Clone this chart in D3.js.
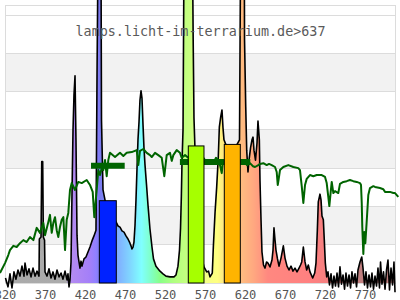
<!DOCTYPE html>
<html><head><meta charset="utf-8">
<script src="https://cdn.jsdelivr.net/npm/d3@7/dist/d3.min.js"></script>
<style>html,body{margin:0;padding:0;background:#fff;} svg{display:block;}</style>
</head><body>
<svg id="chart" width="400" height="300"></svg>
<script>
const titleText = "lamps.licht-im-terrarium.de>637";
const tickLabels = [320, 370, 420, 470, 520, 570, 620, 670, 720, 770];
const gridValues = [0, 10, 20, 30, 40, 50, 60, 70];
const bandValues = [10, 30, 50];

// lamp spectrum: [wavelength nm, relative intensity]
const spectrum = [[320,1.3],[323.1,-1.0],[325.6,2.4],[328.1,-1.3],[330.6,2.9],[333.1,1.0],[335.6,3.4],[338.1,1.8],[340.6,4.4],[343.1,1.8],[344.4,5.2],[346.9,2.1],[349.4,3.7],[351.9,1.6],[354.4,3.9],[356.9,1.8],[359.4,3.1],[361.9,1.8],[362.3,11.5],[364.4,12.0],[365.3,31.7],[366.5,31.7],[367.3,12.0],[368.8,11.2],[369.4,2.9],[371.9,1.8],[374.4,3.7],[376.9,1.3],[379.4,2.9],[381.9,1.0],[384.4,3.4],[386.9,1.6],[389.4,2.6],[391.9,1.0],[394.4,3.1],[396.9,0.8],[398.1,2.4],[399.4,-1.0],[400.6,0.8],[401.9,5.5],[403.1,23.0],[404.4,40.0],[405.6,49.1],[406.9,54.1],[408.1,37.4],[409.4,12.5],[410.6,7.3],[411.9,5.5],[413.1,3.9],[414.4,5.7],[415.6,4.4],[418.1,6.3],[420.6,6.8],[423.1,8.1],[425.6,9.4],[428.1,11.0],[430.6,12.3],[433.1,13.8],[434.4,54.3],[435.6,84.4],[439.4,84.4],[440,42.6],[441.9,24.3],[445.6,20.4],[450.6,18.5],[455.6,17.0],[458.8,15.7],[460.6,14.9],[463.1,14.6],[465.6,13.6],[468.1,13.3],[470.6,12.3],[473.1,11.5],[475.6,10.4],[476.9,9.7],[478.1,8.9],[479.4,9.4],[480.6,10.7],[481.9,15.1],[483.1,21.7],[484.4,30.0],[485.6,37.4],[486.9,42.1],[488.1,47.8],[489.4,50.2],[490.6,48.3],[491.9,41.3],[493.1,35.3],[494.4,30.8],[496.3,25.6],[498.1,20.4],[500.6,14.1],[503.1,9.4],[505,6.3],[508.1,4.4],[513.1,3.1],[516.9,2.4],[520.6,1.8],[525.6,1.6],[530.6,1.6],[533.1,2.1],[535.6,4.4],[537.5,8.6],[538.8,14.4],[539.8,22.5],[540.6,31.3],[541.9,40.0],[543.1,84.4],[553.8,84.4],[554.6,63.5],[555.6,43.1],[558.1,26.9],[561.9,13.8],[565.6,6.5],[568.1,4.2],[571.5,2.9],[573.8,3.1],[575.6,1.6],[578.5,2.6],[579.8,9.4],[581.9,18.3],[584,25.1],[586,32.9],[587.3,40.7],[589,43.4],[590.6,45.2],[591.9,40.5],[593.1,37.4],[598.1,34.7],[605.6,34.7],[612.5,37.4],[613.8,84.4],[618.5,84.4],[618.8,63.5],[620.3,46.0],[621.5,34.7],[623.1,29.0],[624.4,32.1],[626.3,35.3],[628.1,37.4],[629.4,38.1],[630.6,34.7],[632.5,32.1],[634.4,36.6],[635.6,42.3],[637.3,37.4],[638.1,26.9],[639.4,16.5],[640.6,8.1],[642.5,4.7],[644.4,3.9],[646.3,5.5],[648.1,5.2],[650.6,4.2],[653.1,6.0],[654.4,8.6],[655.6,14.4],[656.9,11.2],[658.1,8.6],[660,6.3],[661.9,4.4],[664.4,6.5],[667.3,9.7],[669.4,6.5],[671.9,4.4],[674.4,3.4],[676.9,4.4],[679.4,3.1],[681.9,3.9],[684.4,2.9],[686.9,3.9],[688.8,4.7],[690.3,5.5],[692.3,9.4],[694.4,5.5],[696.5,3.4],[698.5,4.7],[700.6,2.9],[704,1.3],[706.5,2.6],[708.1,5.2],[709.8,13.8],[711,21.2],[713.1,23.2],[714.4,21.7],[715.6,17.5],[717.3,16.5],[718.5,11.2],[719.8,5.2],[721.5,1.6],[723.1,2.9],[725,-0.5],[726.9,2.4],[728.8,-1.3],[730.6,1.8],[732.5,-0.8],[734.4,2.6],[736.3,-1.0],[738.1,4.2],[740,-0.3],[741.9,2.1],[743.8,-1.6],[745.6,2.6],[747.5,-0.8],[749.4,2.1],[751.3,-1.3],[753.1,2.9],[755,0],[756.9,2.4],[758.8,-1.0],[760.6,3.4],[763.1,5.5],[765.3,6.8],[766.9,3.9],[768.8,-0.5],[770.6,2.9],[772.5,-1.3],[774.4,2.1],[776.3,-1.0],[778.1,2.6],[780,-1.6],[781.9,1.8],[783.8,-0.8],[785.6,3.9],[787.5,-1.3],[788.8,5.5],[790.6,-0.3],[792.5,2.9],[794.4,-1.6],[796.3,3.4],[798.1,6.0],[800,-1.8],[801.9,3.9],[803.8,-0.5],[805.6,5.5],[806.9,-2.4]];

// daylight reference: [wavelength nm, relative intensity]
const daylight = [[313.1,2.6],[319.4,5.2],[323.5,7.3],[325.6,8.6],[329.8,9.7],[334,9.4],[338.1,10.4],[342.3,11.2],[346.5,10.7],[350.6,12.0],[354.8,11.2],[359,14.4],[363.1,13.1],[367.3,15.7],[369.4,12.5],[373.5,15.9],[375.6,17.8],[377.8,13.1],[379.8,15.7],[381.9,17.2],[384,13.8],[386,12.0],[388.1,14.6],[390.3,16.5],[392.3,17.2],[394.4,8.6],[396.5,16.5],[398.5,18.3],[400.6,24.3],[402.8,26.1],[406.9,24.3],[411,26.4],[415.3,26.1],[421.5,26.9],[425.6,25.6],[429,23.8],[431,17.2],[434,24.3],[436,29.5],[438.1,28.2],[440.3,30.0],[442.3,29.5],[444.4,32.1],[446.5,27.9],[448.5,32.1],[450.6,34.0],[456.9,32.9],[463.1,34.0],[467.3,33.2],[471.5,34.0],[477.8,34.2],[484,34.7],[486,30.8],[488.1,34.5],[492.3,35.0],[496.5,34.0],[500.6,33.4],[502.8,32.9],[506.9,34.0],[511,33.4],[515.3,32.7],[518.5,27.9],[521.5,33.4],[525.6,34.0],[527.8,31.9],[529.8,33.4],[534,34.7],[538.1,34.0],[540.3,32.7],[544.4,33.4],[548.5,32.7],[553.1,33.2],[558.1,32.1],[563.1,32.1],[567.3,32.7],[571.5,31.6],[575.6,32.1],[579.8,31.3],[583.1,32.7],[586,32.1],[588.1,30.8],[590.3,28.7],[591.9,32.1],[600.6,31.6],[613.8,31.3],[618.1,31.9],[621.9,30.8],[625.6,31.3],[629.4,30.5],[631.9,30.3],[636,30.8],[638.1,31.1],[642.3,31.3],[646.5,30.8],[649.4,31.1],[652.8,30.8],[656.9,30.3],[659,29.0],[660.3,25.6],[661.3,26.9],[663.1,29.5],[667.3,30.3],[673.5,30.8],[679.8,30.3],[686,30.0],[688.1,29.5],[690.3,25.3],[692.3,20.9],[694.4,25.6],[696.5,27.2],[700.6,28.2],[704.8,27.9],[709,28.2],[715.3,28.2],[719.4,27.7],[721.5,26.1],[723.5,22.5],[724.8,20.1],[726.5,23.8],[727.8,26.4],[729.8,23.5],[731.9,24.0],[736,23.5],[738.1,25.9],[742.3,26.4],[746.5,26.6],[750.6,26.9],[754.8,26.6],[759,26.4],[763.1,26.1],[764.4,25.6],[765.3,20.9],[766,14.6],[767.3,7.6],[768.5,13.3],[769.8,10.4],[771.3,15.4],[773.5,23.0],[775.6,24.8],[779.8,25.3],[781.9,25.1],[788.1,24.8],[792.3,24.5],[794.4,23.8],[800.6,23.8],[804.8,23.5],[806.9,23.5],[811,22.5]];

// band bars
const barStart = [437.3, 548.5, 593.5];
const barEnd = [458.5, 568.1, 613.5];
const barValue = [21.5, 35.8, 36.2];
const barColor = ["#0022ff", "#a6ff00", "#ffb400"];

// daylight band averages
const segStart = [426.9, 538];
const segEnd = [469, 626];
const segValue = [30.6, 31.6];

// fill colour per wavelength (style)
const fillStops = [[320,"#aaaaaa"],[396,"#ababab"],[400,"#b58cf0"],[425,"#a47ff8"],[433,"#9080ff"],[438,"#7b7bf0"],[458,"#80a8ff"],[475,"#80d4ff"],[490,"#80ffff"],[503,"#80ffc0"],[513,"#88ff88"],[530,"#b0ff80"],[550,"#c8ff80"],[570,"#f4ff88"],[585,"#ffff80"],[595,"#ffe080"],[612,"#ffc080"],[630,"#ffa880"],[648,"#ff8880"],[700,"#ff8080"],[730,"#f08080"],[755,"#c08080"],[807.5,"#c08080"]];

const svg = d3.select("#chart");
const x = d3.scaleLinear().domain([320, 807.5]).range([5.5, 395.5]);
const y = d3.scaleLinear().domain([0, 70]).range([283, 15]);
const L = x(320), R = x(807.5);
const lineY = v => Math.floor(y(v)) + 0.5;

// background bands
svg.append("g").selectAll("rect").data(bandValues).join("rect")
  .attr("x", L).attr("width", R - L)
  .attr("y", d => lineY(d + 10)).attr("height", d => lineY(d) - lineY(d + 10))
  .attr("fill", "#f2f2f2");

// grid
svg.append("g").selectAll("line").data(gridValues).join("line")
  .attr("x1", L).attr("x2", R)
  .attr("y1", d => lineY(d)).attr("y2", d => lineY(d))
  .attr("stroke", "#dcdcdc").attr("stroke-width", 1);
svg.append("rect").attr("x", L).attr("y", 5.5).attr("width", R - L).attr("height", lineY(0) - 5.5)
  .attr("fill", "none").attr("stroke", "#dcdcdc");

// gradient
const defs = svg.append("defs");
const grad = defs.append("linearGradient").attr("id", "specGrad")
  .attr("gradientUnits", "userSpaceOnUse")
  .attr("x1", x(320)).attr("x2", x(807.5)).attr("y1", 0).attr("y2", 0);
grad.selectAll("stop").data(fillStops).join("stop")
  .attr("offset", d => (d[0] - 320) / (807.5 - 320))
  .attr("stop-color", d => d[1]);

// spectrum
const area = d3.area().x(d => x(d[0])).y0(y(0)).y1(d => y(d[1]));
const line = d3.line().x(d => x(d[0])).y(d => y(d[1]));
svg.append("path").datum(spectrum).attr("d", area).attr("fill", "url(#specGrad)");
svg.append("path").datum(spectrum).attr("d", line).attr("fill", "none")
  .attr("stroke", "#000").attr("stroke-width", 1.6).attr("stroke-linejoin", "round");

// daylight
svg.append("path").datum(daylight).attr("d", line).attr("fill", "none")
  .attr("stroke", "#006400").attr("stroke-width", 2).attr("stroke-linejoin", "round");

svg.append("g").selectAll("line").data(segValue).join("line")
  .attr("x1", (d, i) => x(segStart[i])).attr("x2", (d, i) => x(segEnd[i]))
  .attr("y1", d => y(d)).attr("y2", d => y(d))
  .attr("stroke", "#006400").attr("stroke-width", 6);

// bars
svg.append("g").selectAll("rect").data(barValue).join("rect")
  .attr("x", (d, i) => x(barStart[i])).attr("width", (d, i) => x(barEnd[i]) - x(barStart[i]))
  .attr("y", d => y(d)).attr("height", d => y(0) - y(d))
  .attr("fill", (d, i) => barColor[i]).attr("stroke", "#000").attr("stroke-width", 1);

// title
svg.append("text").attr("x", 200.5).attr("y", 36).attr("text-anchor", "middle")
  .attr("font-family", "DejaVu Sans Mono, monospace").attr("font-size", "13.4px")
  .attr("fill", "#5a5a5a").text(titleText);

// x labels
svg.append("g").selectAll("text").data(tickLabels).join("text")
  .attr("x", d => x(d)).attr("y", 299).attr("text-anchor", "middle")
  .attr("font-family", "DejaVu Sans Mono, monospace").attr("font-size", "12px")
  .attr("fill", "#555").text(d => d);
</script>
</body></html>
